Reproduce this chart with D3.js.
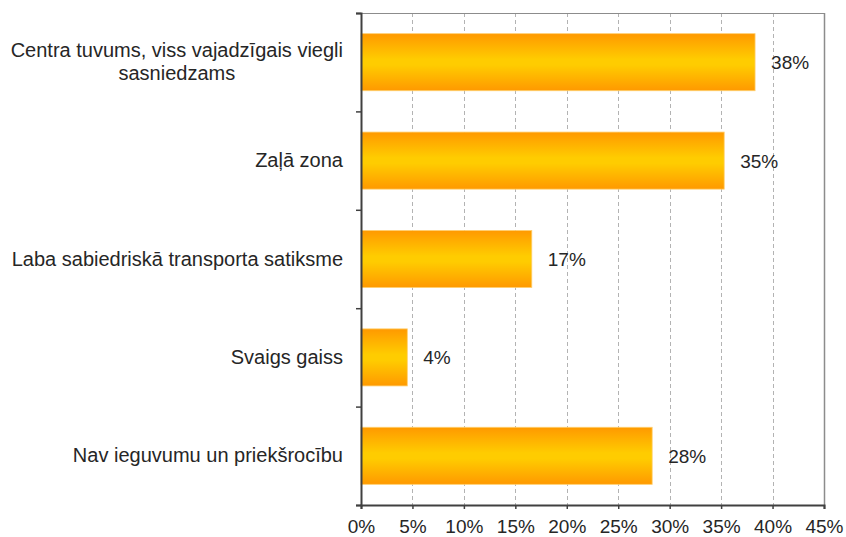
<!DOCTYPE html>
<html>
<head>
<meta charset="utf-8">
<script src="https://cdn.jsdelivr.net/npm/d3@7"></script>
<style>
  html, body { margin: 0; padding: 0; background: #fff; }
  svg { display: block; }
  text { font-family: "Liberation Sans", Arial, sans-serif; fill: #262626; }
</style>
</head>
<body>
<svg id="chart" width="846" height="537"></svg>
<script>
// Data
const categories = [
  ["Centra tuvums, viss vajadzīgais viegli", "sasniedzams"],
  ["Zaļā zona"],
  ["Laba sabiedriskā transporta satiksme"],
  ["Svaigs gaiss"],
  ["Nav ieguvumu un priekšrocību"]
];
const values = [0.383, 0.353, 0.166, 0.045, 0.283];
const valueLabels = ["38%", "35%", "17%", "4%", "28%"];
const xTicks = [0, 0.05, 0.10, 0.15, 0.20, 0.25, 0.30, 0.35, 0.40, 0.45];

(function () {
const svg = d3.select("#chart");
const pLeft = 361, pRight = 824, pTop = 13, pBottom = 505;
const fontSize = 19;
const catFontSize = 20;

const x = d3.scaleLinear().domain([0, 0.45]).range([pLeft, pRight]);
const ids = categories.map((d, i) => i);
const y = d3.scaleBand().domain(ids).range([pTop, pBottom]).paddingInner(0.42).paddingOuter(0.21);
const yEdge = d3.scaleLinear().domain([0, categories.length]).range([pTop, pBottom]);

// gradient
const defs = svg.append("defs");
const grad = defs.append("linearGradient").attr("id", "barGrad")
  .attr("x1", 0).attr("y1", 0).attr("x2", 0).attr("y2", 1);
grad.append("stop").attr("offset", "0%").attr("stop-color", "#FF9900");
grad.append("stop").attr("offset", "45%").attr("stop-color", "#FFCC00");
grad.append("stop").attr("offset", "55%").attr("stop-color", "#FFCC00");
grad.append("stop").attr("offset", "100%").attr("stop-color", "#FF9900");

// grid lines (dashed)
svg.append("g").selectAll("line")
  .data(xTicks.filter(t => t > 0 && t < 0.45))
  .join("line")
  .attr("x1", d => Math.round(x(d)) + 0.5).attr("x2", d => Math.round(x(d)) + 0.5)
  .attr("y1", pTop).attr("y2", pBottom)
  .attr("stroke", "#b3b3b3").attr("stroke-width", 1).attr("stroke-dasharray", "4,3");

// top and right border
svg.append("line").attr("x1", pLeft).attr("x2", pRight + 0.5).attr("y1", pTop + 0.5).attr("y2", pTop + 0.5)
  .attr("stroke", "#8c8c8c").attr("stroke-width", 1.2);
svg.append("line").attr("x1", pRight + 0.5).attr("x2", pRight + 0.5).attr("y1", pTop).attr("y2", pBottom)
  .attr("stroke", "#8c8c8c").attr("stroke-width", 1.5);

// bars
svg.append("g").selectAll("rect")
  .data(values)
  .join("rect")
  .attr("x", x(0))
  .attr("y", (d, i) => y(i))
  .attr("width", d => x(d) - x(0))
  .attr("height", y.bandwidth())
  .attr("fill", "url(#barGrad)")
  .attr("stroke", "#FFD070").attr("stroke-width", 0.8);

// value labels
svg.append("g").selectAll("text")
  .data(values)
  .join("text")
  .attr("x", d => x(d) + 16)
  .attr("y", (d, i) => y(i) + y.bandwidth() / 2 + 7)
  .attr("font-size", fontSize)
  .text((d, i) => valueLabels[i]);

// bottom axis
const xAxis = d3.axisBottom(x).tickValues(xTicks).tickFormat(d3.format(".0%")).tickSize(4).tickPadding(11);
const gx = svg.append("g").attr("transform", `translate(0,${pBottom})`).call(xAxis);
gx.select(".domain").attr("stroke", "#404040").attr("stroke-width", 2);
gx.selectAll(".tick line").attr("stroke", "#404040").attr("stroke-width", 1.5);
gx.selectAll(".tick text").attr("font-size", fontSize).attr("font-family", "Liberation Sans, Arial, sans-serif").attr("fill", "#262626");

// left axis (ticks at category boundaries)
const yAxis = d3.axisLeft(yEdge).tickValues(d3.range(categories.length + 1)).tickFormat("").tickSize(5);
const gy = svg.append("g").attr("transform", `translate(${pLeft},0)`).call(yAxis);
gy.select(".domain").attr("stroke", "#404040").attr("stroke-width", 2);
gy.selectAll(".tick line").attr("stroke", "#404040").attr("stroke-width", 1.5);

// category labels
const labelX = 343;
const lineH = 23;
categories.forEach((lines, i) => {
  const cy = y(i) + y.bandwidth() / 2;
  const n = lines.length;
  const g = svg.append("g");
  const t0 = g.append("text").attr("x", labelX).attr("text-anchor", "end")
    .attr("y", cy + 6.5 - (n - 1) * lineH / 2).attr("font-size", catFontSize).text(lines[0]);
  if (n > 1) {
    const w = t0.node().getComputedTextLength();
    const center = labelX - w / 2;
    for (let k = 1; k < n; k++) {
      g.append("text").attr("x", center).attr("text-anchor", "middle")
        .attr("y", cy + 6.5 - (n - 1) * lineH / 2 + k * lineH)
        .attr("font-size", catFontSize).text(lines[k]);
    }
  }
});
})();
</script>
</body>
</html>
